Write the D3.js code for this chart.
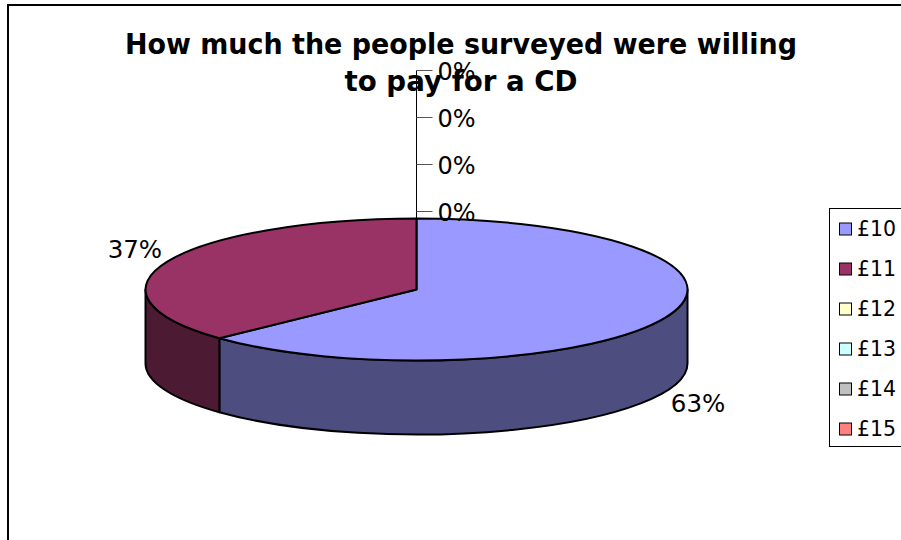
<!DOCTYPE html>
<html>
<head>
<meta charset="utf-8">
<script src="https://cdn.jsdelivr.net/npm/d3@7"></script>
<style>
  html, body { margin: 0; padding: 0; background: #fff; overflow: hidden; }
  svg { display: block; }
</style>
</head>
<body>
<svg id="chart" width="901" height="540"></svg>
<script>
// Survey answers: price people would pay for a CD
const categories = ["£10", "£11", "£12", "£13", "£14", "£15"];
const counts = [17, 10, 0, 0, 0, 0];
const colors = ["#9999FF", "#993366", "#FFFFCC", "#CCFFFF", "#C0C0C0", "#FF8080"];
const titleLines = ["How much the people surveyed were willing", "to pay for a CD"];

const svg = d3.select("#chart");
const W = 901, H = 540;

// Chart frame (continues past the right and bottom edges)
svg.append("rect")
  .attr("x", 8).attr("y", 5).attr("width", W + 40).attr("height", H + 40)
  .attr("fill", "#fff").attr("stroke", "#000").attr("stroke-width", 2);

// Title
const title = svg.append("text")
  .attr("text-anchor", "middle")
  .attr("font-family", "'DejaVu Sans', Verdana, sans-serif")
  .attr("font-weight", "bold")
  .attr("font-size", 28)
  .attr("fill", "#000");
title.append("tspan").attr("x", 461).attr("y", 54).text(titleLines[0])
  .attr("textLength", 672).attr("lengthAdjust", "spacingAndGlyphs");
title.append("tspan").attr("x", 461).attr("y", 91).text(titleLines[1])
  .attr("textLength", 233).attr("lengthAdjust", "spacingAndGlyphs");

// 3D pie geometry
const cx = 416.5, cy = 289.5, rx = 271, ry = 71, depth = 74;
const total = d3.sum(counts);
const pie = d3.pie().sort(null).value(d => d).startAngle(0).endAngle(2 * Math.PI);
const arcs = pie(counts).map((a, i) => ({ ...a, i }));

const px = a => cx + rx * Math.sin(a);
const py = a => cy - ry * Math.cos(a);

function topPath(a0, a1) {
  const large = (a1 - a0) > Math.PI ? 1 : 0;
  return `M${cx},${cy}L${px(a0)},${py(a0)}A${rx},${ry} 0 ${large} 1 ${px(a1)},${py(a1)}Z`;
}
function sidePath(a0, a1) {
  const large = (a1 - a0) > Math.PI ? 1 : 0;
  return `M${px(a0)},${py(a0)}A${rx},${ry} 0 ${large} 1 ${px(a1)},${py(a1)}` +
         `L${px(a1)},${py(a1) + depth}A${rx},${ry} 0 ${large} 0 ${px(a0)},${py(a0) + depth}Z`;
}
const shade = c => { const r = d3.rgb(c); return d3.rgb(r.r * 0.5, r.g * 0.5, r.b * 0.5).toString(); };

const g = svg.append("g");
// Outer walls: only the front half (PI/2 .. 3PI/2) faces the viewer
arcs.filter(a => a.value > 0).forEach(a => {
  const s = Math.max(a.startAngle, Math.PI / 2), e = Math.min(a.endAngle, 3 * Math.PI / 2);
  if (e > s) {
    g.append("path").attr("d", sidePath(s, e))
      .attr("fill", shade(colors[a.i])).attr("stroke", "#000").attr("stroke-width", 2)
      .attr("stroke-linejoin", "round");
  }
});
// Top faces
arcs.filter(a => a.value > 0).forEach(a => {
  g.append("path").attr("d", topPath(a.startAngle, a.endAngle))
    .attr("fill", colors[a.i]).attr("stroke", "#000").attr("stroke-width", 2)
    .attr("stroke-linejoin", "round");
});

// Percentage labels
const fmt = v => Math.round(v / total * 100) + "%";
const labelFont = "'DejaVu Sans', Verdana, sans-serif";
arcs.filter(a => a.value > 0).forEach(a => {
  const m = (a.startAngle + a.endAngle) / 2;
  const s = Math.sin(m), c = Math.cos(m);
  let x = px(m), y = py(m);
  if (c < 0) y += depth;
  svg.append("text")
    .attr("x", x + s * 6).attr("y", y - c * 30)
    .attr("dy", "0.36em")
    .attr("text-anchor", s >= 0 ? "start" : "end")
    .attr("font-family", labelFont).attr("font-size", 24.5).attr("fill", "#000")
    .text(fmt(a.value));
});

// Zero-value slices sit at 12 o'clock; their labels are stacked on a leader line
const zeros = arcs.filter(a => a.value === 0);
const leadTop = py(0), step = 47;
const ys = zeros.map((a, j) => leadTop - 7 - j * step);
svg.append("line")
  .attr("x1", cx).attr("x2", cx).attr("y1", leadTop).attr("y2", d3.min(ys))
  .attr("stroke", "#000").attr("stroke-width", 1);
zeros.forEach((a, j) => {
  svg.append("line")
    .attr("x1", cx).attr("x2", cx + 16).attr("y1", ys[j]).attr("y2", ys[j])
    .attr("stroke", "#555").attr("stroke-width", 1);
  svg.append("text")
    .attr("x", cx + 21).attr("y", ys[j] + 1).attr("dy", "0.36em")
    .attr("font-family", labelFont).attr("font-size", 24).attr("fill", "#000")
    .text(fmt(a.value));
});

// Legend
const lg = svg.append("g");
lg.append("rect").attr("x", 829.5).attr("y", 208.5).attr("width", 120).attr("height", 238)
  .attr("fill", "#fff").attr("stroke", "#000").attr("stroke-width", 1);
const rowY = d3.scalePoint().domain(categories).range([229, 429]);
categories.forEach((c, i) => {
  lg.append("rect").attr("x", 839.5).attr("y", rowY(c) - 6).attr("width", 12).attr("height", 12)
    .attr("fill", colors[i]).attr("stroke", "#000").attr("stroke-width", 1);
  lg.append("text").attr("x", 857).attr("y", rowY(c)).attr("dy", "0.36em")
    .attr("font-family", labelFont).attr("font-size", 20.5).attr("fill", "#000")
    .text(c);
});
</script>
</body>
</html>
